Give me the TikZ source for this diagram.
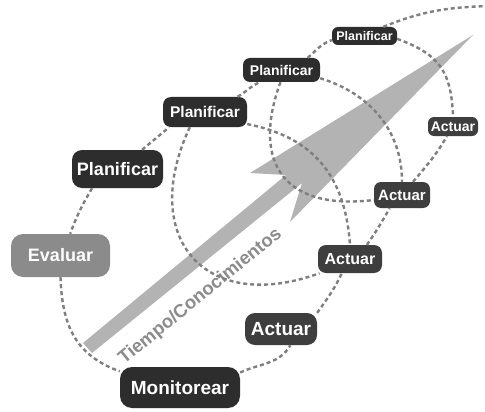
\documentclass[tikz,border=0pt]{standalone}
\usepackage{fontspec}
\setmainfont{Liberation Sans}
\definecolor{nodedark}{HTML}{2D2D2D}
\definecolor{nodemid}{HTML}{3E3E3E}
\definecolor{nodegray}{HTML}{8B8B8B}
\definecolor{arrowgray}{HTML}{B3B3B3}
\definecolor{dashgray}{HTML}{7F7F7F}
\definecolor{textgray}{HTML}{8C8C8C}
\begin{document}
\begin{tikzpicture}[x=1pt,y=1pt,
  stg/.style={rounded corners=#1, inner sep=0pt, text=white},
  stg/.default=7pt,
  cyc/.style={draw=dashgray, line width=2.4pt, dash pattern=on 4pt off 3pt},
  fs/.style={font=\bfseries\fontsize{#1}{#1}\selectfont}]
\useasboundingbox (0,0) rectangle (485,-412);
\fill[white] (0,0) rectangle (485,-412);

% arrow
\fill[arrowgray] (83,-343) -- (286,-175) -- (250,-173) -- (473,-35) -- (290,-222) -- (302,-183) -- (92,-353) -- cycle;
\node[rotate=39.2, text=textgray, fs=18.5] (tc) at (200.5,-296.5) {Tiempo/Conocimientos};

% nodes
\node[stg=10pt, fill=nodedark, minimum width=91pt, minimum height=38pt, fs=18] (P1) at (117.5,-169) {Planificar};
\node[stg=8pt, fill=nodedark, minimum width=84pt, minimum height=30pt, fs=15.5] (P2) at (205,-112) {Planificar};
\node[stg=7pt, fill=nodedark, minimum width=77pt, minimum height=24pt, fs=14] (P3) at (281.5,-70) {Planificar};
\node[stg=6pt, fill=nodedark, minimum width=65pt, minimum height=18pt, fs=12.5] (P4) at (364.5,-36) {Planificar};
\node[stg=12pt, fill=nodegray, minimum width=99pt, minimum height=43pt, fs=18] (E) at (60.5,-255.5) {Evaluar};
\node[stg=12pt, fill=nodedark, minimum width=120pt, minimum height=41pt, fs=19] (M) at (180,-387.5) {Monitorear};
\node[stg=10pt, fill=nodemid, minimum width=72pt, minimum height=32pt, fs=19] (A1) at (281,-329) {Actuar};
\node[stg=8pt, fill=nodemid, minimum width=64pt, minimum height=28pt, fs=16] (A2) at (350,-259) {Actuar};
\node[stg=7pt, fill=nodemid, minimum width=56pt, minimum height=26pt, fs=15] (A3) at (402,-195) {Actuar};
\node[stg=6pt, fill=nodemid, minimum width=50pt, minimum height=19pt, fs=14] (A4) at (453,-126.5) {Actuar};
\coordinate (far) at (488,-6);

% outer spiral
\draw[cyc] (P1.38) to[out=40,in=220] (P2.203);
\draw[cyc] (P2.25) to[out=30,in=205] (P3.209);
\draw[cyc] (P3.25) to[out=40,in=200] (P4.187);
\draw[cyc] (P4.26) to[out=22,in=182] (far);
\draw[cyc] (P1.217) to[out=240,in=70] (E.66);
\draw[cyc] (E.270) to[out=272,in=160,looseness=1.1] (M.165);
\draw[cyc] (M.14) to[out=25,in=240] (A1.300);
\draw[cyc] (A1.24) to[out=55,in=245] (A2.240);
\draw[cyc] (A2.40) to[out=55,in=240] (A3.227);
\draw[cyc] (A3.50) to[out=50,in=240] (A4.238);

% inner cycles
\draw[cyc] (P2.225) to[out=245,in=200,looseness=1.6] (A2.205);
\draw[cyc] (P2.-16) to[out=-11,in=94,looseness=1.1] (A2.north);
\draw[cyc] (P3.265) to[out=250,in=187,looseness=1.5] (A3.190);
\draw[cyc] (P3.-12) to[out=-17,in=90] (A3.north);
\draw[cyc] (P4.-5) to[out=-20,in=92,looseness=1.2] (A4.north);
\end{tikzpicture}
\end{document}
